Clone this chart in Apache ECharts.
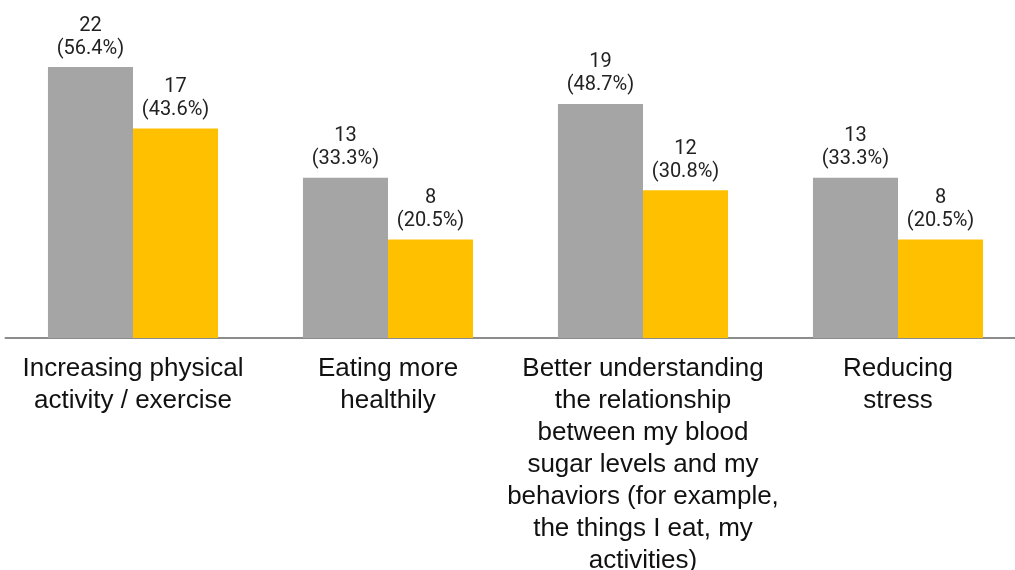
<!DOCTYPE html>
<html>
<head>
<meta charset="utf-8">
<style>
  html, body { margin: 0; padding: 0; background: #fff; }
  #chart { width: 1015px; height: 570px; }
</style>
<script src="https://cdn.jsdelivr.net/npm/echarts@6/dist/echarts.min.js"></script>
</head>
<body>
<div id="chart"></div>
<script>
// categories (pre-wrapped as in the original slide)
const categories = [
  'Increasing physical\nactivity / exercise',
  'Eating more\nhealthily',
  'Better understanding\nthe relationship\nbetween my blood\nsugar levels and my\nbehaviors (for example,\nthe things I eat, my\nactivities)',
  'Reducing\nstress'
]
const grayCounts = [22, 13, 19, 13]
const grayPercents = ['56.4%', '33.3%', '48.7%', '33.3%']
const yellowCounts = [17, 8, 12, 8]
const yellowPercents = ['43.6%', '20.5%', '30.8%', '20.5%']

const chart = echarts.init(document.getElementById('chart'))

function labelFor(percents) {
  return {
    show: true,
    position: 'top',
    distance: 7,
    fontFamily: 'Roboto',
    fontSize: 20,
    lineHeight: 23,
    color: '#222',
    formatter: p => p.value + '\n(' + percents[p.dataIndex] + ')'
  }
}

chart.setOption({
  animation: false,
  grid: {
    left: 5.5, top: 67, width: 1020, height: 271,
    containLabel: false,
    outerBoundsMode: 'none'
  },
  xAxis: {
    type: 'category',
    data: categories,
    axisLine: { lineStyle: { color: '#8c8c8c', width: 2 } },
    axisTick: { show: false },
    axisLabel: {
      interval: 0,
      margin: 15,
      fontFamily: 'Liberation Sans',
      fontSize: 26,
      lineHeight: 32,
      color: '#111'
    }
  },
  yAxis: {
    type: 'value',
    min: 0,
    max: 22,
    show: false,
    splitLine: { show: false }
  },
  series: [
    {
      type: 'bar',
      data: grayCounts,
      barGap: '0%',
      barCategoryGap: '33.3%',
      itemStyle: { color: '#a5a5a5' },
      label: labelFor(grayPercents)
    },
    {
      type: 'bar',
      data: yellowCounts,
      itemStyle: { color: '#ffc000' },
      label: labelFor(yellowPercents)
    }
  ]
})
</script>
</body>
</html>
